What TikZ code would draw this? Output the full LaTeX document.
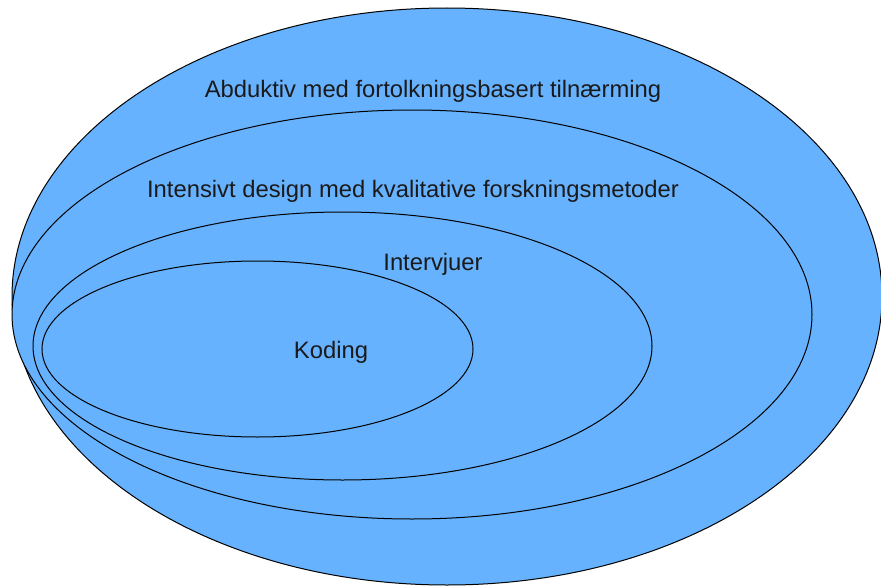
\documentclass[tikz,border=0pt]{standalone}
\usepackage{fontspec}
\setmainfont{Liberation Sans}
\usetikzlibrary{shapes.geometric}
\definecolor{fillblue}{RGB}{102,178,255}
\definecolor{txt}{RGB}{26,26,26}
\begin{document}
\begin{tikzpicture}[x=1pt,y=-1pt,
  ell/.style={ellipse,draw=black,line width=1pt,fill=fillblue,inner sep=0pt,outer sep=0pt},
  lbl/.style={anchor=base,inner sep=0pt,text=txt,font=\fontsize{23.8}{28}\selectfont}]
\useasboundingbox (0,0) rectangle (881,586);
\node[ell,minimum width=870pt,minimum height=577pt] (outer) at (447,296.5) {};
\node[ell,minimum width=800pt,minimum height=409pt] (design) at (412,314.5) {};
\node[ell,minimum width=619pt,minimum height=268pt] (intv) at (342.5,346) {};
\node[ell,minimum width=431pt,minimum height=176pt] (kod) at (257.5,349) {};
\node[lbl] (t1) at (433,97) {Abduktiv med fortolkningsbasert tilnærming};
\node[lbl] (t2) at (413,197) {Intensivt design med kvalitative forskningsmetoder};
\node[lbl] (t3) at (433,270) {Intervjuer};
\node[lbl] (t4) at (331,358) {Koding};
\end{tikzpicture}
\end{document}
